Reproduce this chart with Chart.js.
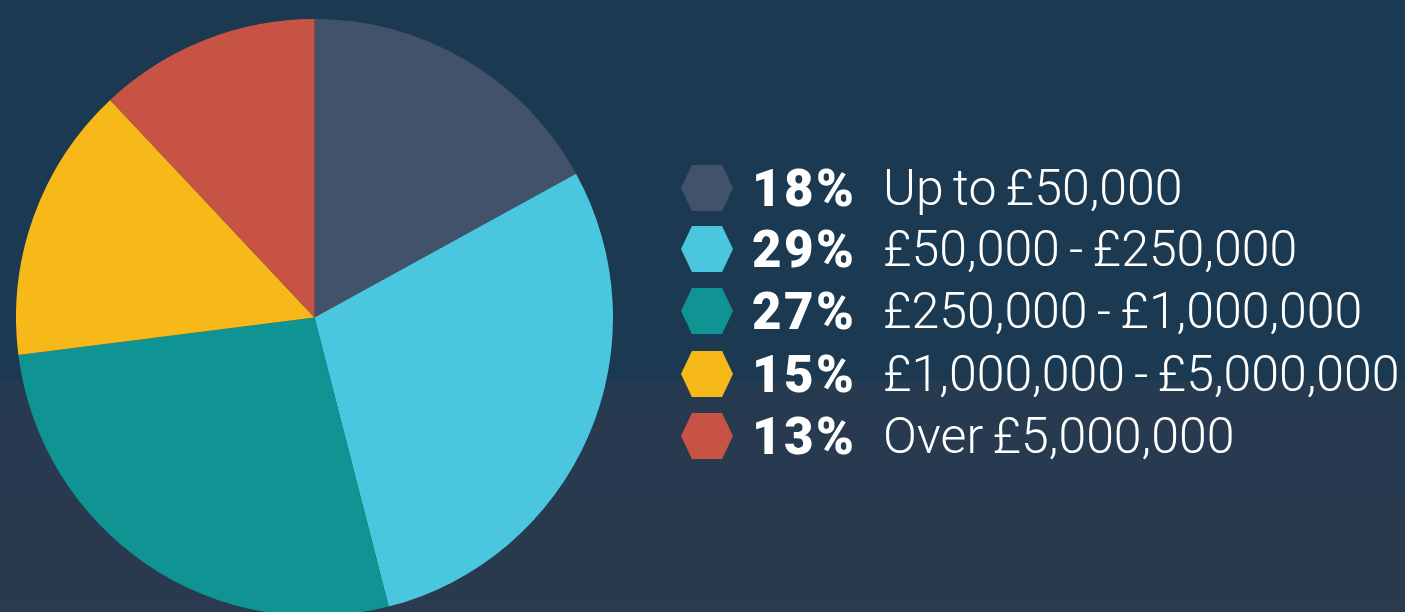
<!DOCTYPE html>
<html>
<head>
<meta charset="utf-8">
<script src="https://cdn.jsdelivr.net/npm/chart.js@4"></script>
<style>
  html, body {
    margin: 0;
    width: 1405px;
    height: 612px;
    overflow: hidden;
  }
  body {
    position: relative;
    background: linear-gradient(to bottom, #1b3a52 0px, #1b3a52 381px, #263a50 381px, #2b3a4e 612px);
    font-family: Roboto, sans-serif;
    color: #ffffff;
  }
  #pieWrap {
    position: absolute;
    left: 16px;
    top: 19px;
    width: 597px;
    height: 597px;
  }
  #legend {
    position: absolute;
    left: 681px;
    top: 0;
  }
  .row {
    position: absolute;
    left: 0;
    height: 62px;
    display: flex;
    align-items: center;
    white-space: nowrap;
  }
  .hex {
    width: 52px;
    height: 46px;
    clip-path: polygon(21% 0, 79% 0, 100% 50%, 79% 100%, 21% 100%, 0 50%);
  }
  .pct {
    position: absolute;
    left: 71px;
    font-weight: 900;
    font-size: 51px;
    letter-spacing: 2.5px;
  }
  .lbl {
    position: absolute;
    left: 202px;
    font-weight: 300;
    font-size: 50px;
    word-spacing: -3px;
  }
</style>
</head>
<body>
<div id="pieWrap"><canvas id="pieChart" width="597" height="597"></canvas></div>
<div id="legend"></div>
<script>
// bands and shares
let categories = [
    'Up to £50,000',
    '£50,000 - £250,000',
    '£250,000 - £1,000,000',
    '£1,000,000 - £5,000,000',
    'Over £5,000,000'
];
let legendPercents = [18, 29, 27, 15, 13];
let sliceValues = [17, 29, 27, 15, 12];
let sliceColours = ['#42526a', '#4ac6de', '#0f9493', '#f7b81a', '#c65343'];

let rowCentres = [188, 249, 311, 374, 436];

const ctx = document.getElementById('pieChart').getContext('2d');
const pieChart = new Chart(ctx, {
    type: 'pie',
    data: {
        labels: categories,
        datasets: [{
            data: sliceValues,
            backgroundColor: sliceColours,
            borderWidth: 0
        }]
    },
    options: {
        responsive: false,
        animation: false,
        layout: { padding: 0 },
        plugins: {
            legend: { display: false },
            tooltip: { enabled: false }
        }
    }
});

// legend built from the chart's own labels
let legendBox = document.getElementById('legend');
pieChart.data.labels.forEach(function(label, i) {
    let row = document.createElement('div');
    row.className = 'row';
    row.style.top = (rowCentres[i] - 31) + 'px';

    let hex = document.createElement('div');
    hex.className = 'hex';
    hex.style.background = sliceColours[i];
    row.appendChild(hex);

    let pct = document.createElement('span');
    pct.className = 'pct';
    pct.textContent = legendPercents[i] + '%';
    row.appendChild(pct);

    let lbl = document.createElement('span');
    lbl.className = 'lbl';
    lbl.textContent = label;
    row.appendChild(lbl);

    legendBox.appendChild(row);
});
</script>
</body>
</html>
